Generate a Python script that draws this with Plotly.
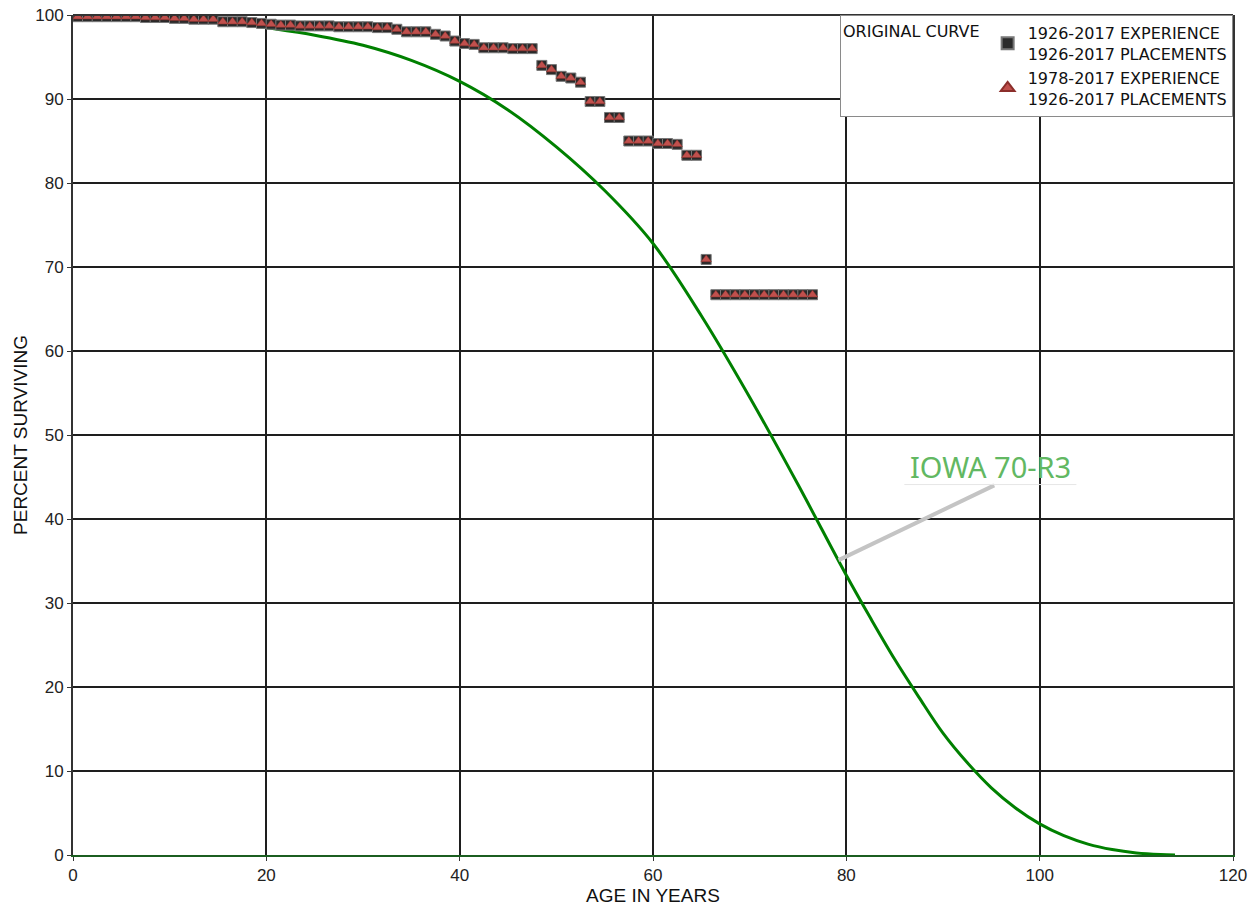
import plotly.graph_objects as go

# ---- data ----
ages = [i + 0.5 for i in range(77)]

exp_1926 = [
    99.8, 99.8, 99.8, 99.8, 99.8, 99.8, 99.8, 99.7, 99.7, 99.7,
    99.6, 99.6, 99.5, 99.5, 99.5, 99.2, 99.2, 99.2, 99.1, 99.0,
    98.9, 98.8, 98.8, 98.7, 98.7, 98.7, 98.7, 98.6, 98.6, 98.6,
    98.6, 98.5, 98.5, 98.3, 98.0, 98.0, 98.0, 97.7, 97.5, 96.9,
    96.6, 96.5, 96.1, 96.1, 96.1, 96.0, 96.0, 96.0, 94.0, 93.5,
    92.7, 92.5, 92.0, 89.7, 89.7, 87.8, 87.8, 85.0, 85.0, 85.0,
    84.7, 84.7, 84.6, 83.3, 83.3, 70.9, 66.7, 66.7, 66.7, 66.7,
    66.7, 66.7, 66.7, 66.7, 66.7, 66.7, 66.7,
]

exp_1978 = [
    99.8, 99.8, 99.8, 99.8, 99.8, 99.8, 99.8, 99.7, 99.7, 99.7,
    99.6, 99.6, 99.5, 99.5, 99.5, 99.2, 99.2, 99.2, 99.1, 99.0,
    98.9, 98.8, 98.8, 98.7, 98.7, 98.7, 98.7, 98.6, 98.6, 98.6,
    98.6, 98.5, 98.5, 98.3, 98.0, 98.0, 98.0, 97.7, 97.5, 96.9,
    96.6, 96.5, 96.1, 96.1, 96.1, 96.0, 96.0, 96.0, 94.0, 93.5,
    92.7, 92.5, 92.0, 89.7, 89.7, 87.8, 87.8, 85.0, 85.0, 85.0,
    84.7, 84.7, 84.6, 83.3, 83.3, 70.9, 66.7, 66.7, 66.7, 66.7,
    66.7, 66.7, 66.7, 66.7, 66.7, 66.7, 66.7,
]

iowa_ages = [0, 5, 10, 15, 20, 25, 30, 35, 40, 45, 50, 55, 60, 65, 70,
             75, 80, 82.5, 85, 87.5, 90, 92.5, 95, 97.5, 100, 102.5, 105,
             107.5, 110, 112.5, 114]
iowa_vals = [100.0, 99.95, 99.7, 99.3, 98.5, 97.6, 96.4, 94.6, 92.1, 88.7,
             84.3, 79.1, 72.8, 64.2, 54.5, 44.1, 33.3, 28.2, 23.3, 18.8,
             14.5, 11.0, 8.0, 5.6, 3.7, 2.3, 1.3, 0.65, 0.25, 0.05, 0.0]

x_ticks = [0, 20, 40, 60, 80, 100, 120]
y_ticks = [0, 10, 20, 30, 40, 50, 60, 70, 80, 90, 100]

label_text = "IOWA 70-R3"
label_pos = (94.9, 46.2)
arrow_from = (95.3, 44.0)
arrow_to = (79.2, 35.1)

fig = go.Figure()

fig.add_trace(go.Scatter(
    x=iowa_ages, y=iowa_vals, mode="lines",
    line=dict(color="#008000", width=3, shape="spline", smoothing=1.0),
    showlegend=False, hoverinfo="skip",
))

fig.add_trace(go.Scatter(
    x=ages, y=exp_1926, mode="markers",
    name="1926-2017 EXPERIENCE<br>1926-2017 PLACEMENTS",
    marker=dict(symbol="square", size=10, color="#2a2a2a",
                line=dict(color="#777777", width=1)),
))

fig.add_trace(go.Scatter(
    x=ages, y=exp_1978, mode="markers",
    name="1978-2017 EXPERIENCE<br>1926-2017 PLACEMENTS",
    marker=dict(symbol="triangle-up", size=9, color="#c0504d",
                line=dict(color="#8b2e2b", width=0.5)),
))

fig.add_annotation(
    x=label_pos[0], y=label_pos[1], text=label_text, showarrow=False,
    font=dict(family="Noto Sans", size=29, color="#62b862"),
    xanchor="center", yanchor="middle",
)
fig.add_shape(type="line", x0=arrow_from[0], y0=arrow_from[1],
              x1=arrow_to[0], y1=arrow_to[1],
              line=dict(color="#c4c4c4", width=4))
fig.add_shape(type="line", x0=86.0, y0=44.1, x1=103.8, y1=44.1,
              line=dict(color="#e6e6e6", width=1))
# top frame
fig.add_shape(type="line", xref="paper", yref="paper", x0=0, x1=1, y0=1, y1=1,
              line=dict(color="#333333", width=2))

tick_font = dict(family="Liberation Sans, Arial", size=17, color="#222222")
title_font = dict(family="Liberation Sans, Arial", size=19, color="#111111")

fig.update_xaxes(
    range=[0, 120], tickvals=x_ticks,
    showgrid=True, gridcolor="#1e1e1e", gridwidth=2,
    showline=True, linecolor="#1b5e20", linewidth=2, mirror=False,
    ticks="outside", ticklen=4, tickcolor="#333333",
    tickfont=tick_font, zeroline=False, automargin=False,
    title=dict(text="AGE IN YEARS", standoff=2, font=title_font),
)
fig.update_yaxes(
    range=[0, 100], tickvals=y_ticks,
    showgrid=True, gridcolor="#1e1e1e", gridwidth=2,
    showline=True, linecolor="#333333", linewidth=2, mirror=True,
    ticks="outside", ticklen=4, tickcolor="#333333",
    tickfont=tick_font, zeroline=False, automargin=False,
    title=dict(text="PERCENT SURVIVING", standoff=3, font=title_font),
)

fig.update_layout(
    width=1257, height=907,
    margin=dict(l=73, r=24, t=15, b=52),
    plot_bgcolor="white", paper_bgcolor="white",
    legend=dict(
        x=1.0, y=1.0, xanchor="right", yanchor="top",
        bgcolor="white", bordercolor="#8a8a8a", borderwidth=1,
        font=dict(family="DejaVu Sans", size=16, color="#111111"),
        title=dict(text="ORIGINAL CURVE", side="left",
                   font=dict(family="DejaVu Sans", size=16, color="#111111")),
        tracegroupgap=2, itemsizing="constant", itemwidth=30,
    ),
)

fig.write_html("out.html")
